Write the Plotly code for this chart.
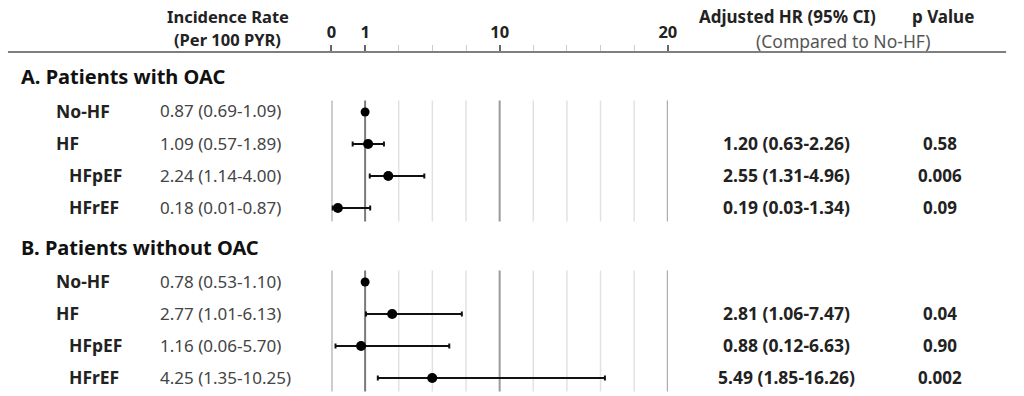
import plotly.graph_objects as go

# ---------------- data ----------------
sections = ["A. Patients with OAC", "B. Patients without OAC"]
groups = ["No-HF", "HF", "HFpEF", "HFrEF"]
indented = [False, False, True, True]

ir_a = ["0.87 (0.69-1.09)", "1.09 (0.57-1.89)", "2.24 (1.14-4.00)", "0.18 (0.01-0.87)"]
ir_b = ["0.78 (0.53-1.10)", "2.77 (1.01-6.13)", "1.16 (0.06-5.70)", "4.25 (1.35-10.25)"]

hr_a = [1.0, 1.20, 2.55, 0.19]
lo_a = [None, 0.63, 1.31, 0.03]
hi_a = [None, 2.26, 4.96, 1.34]
p_a = [None, "0.58", "0.006", "0.09"]

hr_b = [1.0, 2.81, 0.88, 5.49]
lo_b = [None, 1.06, 0.12, 1.85]
hi_b = [None, 7.47, 6.63, 16.26]
p_b = [None, "0.04", "0.90", "0.002"]

tick_values = [0, 1, 10, 20]
tick_labels = ["0", "1", "10", "20"]
minor_values = [3.25, 5.5, 7.75, 12, 14, 16, 18]

# ---------------- layout helpers ----------------
W, H = 1024, 396
FONT = "Noto Sans"
DARK = "#222222"
GRAY = "#444444"


def scale(v):
    """Piecewise axis scale used by the original figure (0-1, 1-10, 10-20)."""
    if v <= 1:
        return v
    if v <= 10:
        return 1 + (v - 1) / 2.25
    return 5 + (v - 10) / 2.0


def px(x):
    return x / W


def py(y):
    return 1 - y / H


AXIS_TOP = 52
fig = go.Figure()

annotations = []
shapes = []


def text(x, y, s, size=17, color=DARK, bold=False, anchor="left"):
    if anchor == "left":
        x -= 3
    annotations.append(dict(
        x=px(x), y=py(y), xref="paper", yref="paper",
        text=f"<b>{s}</b>" if bold else s,
        showarrow=False, xanchor=anchor, yanchor="middle",
        font=dict(family=FONT, size=size, color=color),
    ))


# headers
text(226, 16.5, "Incidence Rate", size=16.5, bold=True, anchor="center")
text(226, 39, "(Per 100 PYR)", size=16.5, bold=True, anchor="center")
text(793, 16, "Adjusted HR (95% CI)", bold=True, anchor="center")
text(951, 16, "p Value", bold=True, anchor="center")
text(850, 41, "(Compared to No-HF)", size=17.5, color="#555555", anchor="center")

shapes.append(dict(type="line", xref="paper", yref="paper",
                   x0=px(3), x1=px(1015), y0=py(AXIS_TOP), y1=py(AXIS_TOP),
                   line=dict(color="#555555", width=1.6)))

section_tops = [77, 247]
ROW0 = 35
STEP = 32

datasets = [
    (ir_a, hr_a, lo_a, hi_a, p_a),
    (ir_b, hr_b, lo_b, hi_b, p_b),
]

for si, (title, (ir, hr, lo, hi, pv)) in enumerate(zip(sections, datasets)):
    top = section_tops[si]
    rows_y = [top + ROW0 + i * STEP for i in range(len(groups))]
    text(17, top, title, size=20, color="#111111", bold=True)

    # gridlines
    g0, g1 = rows_y[0] - 11.5, rows_y[-1] + 13.5
    for v in minor_values:
        shapes.append(dict(type="line", xref="x", yref="paper", layer="below",
                           x0=scale(v), x1=scale(v), y0=py(g1), y1=py(g0),
                           line=dict(color="#e2e2e2", width=1.5)))
    for v in tick_values:
        col = "#7a7a7a" if v == 1 else "#9a9a9a"
        shapes.append(dict(type="line", xref="x", yref="paper", layer="below",
                           x0=scale(v), x1=scale(v), y0=py(g1), y1=py(g0),
                           line=dict(color=col, width=2)))

    for i, g in enumerate(groups):
        y = rows_y[i]
        text(66 if indented[i] else 53, y - 1, g, size=17.5, bold=True)
        text(158, y - 1, ir[i], color=GRAY)
        if lo[i] is not None:
            text(792, y - 1, f"{hr[i]:.2f} ({lo[i]:.2f}-{hi[i]:.2f})", size=17.5, bold=True, anchor="center")
            text(948, y - 1, pv[i], bold=True, anchor="center")

    ref_idx = [i for i in range(len(groups)) if lo[i] is None]
    cmp_idx = [i for i in range(len(groups)) if lo[i] is not None]

    fig.add_trace(go.Scatter(
        x=[scale(hr[i]) for i in ref_idx], y=[rows_y[i] for i in ref_idx],
        mode="markers", marker=dict(color="#000000", size=9),
        showlegend=False, hoverinfo="skip", cliponaxis=False,
    ))
    fig.add_trace(go.Scatter(
        x=[scale(hr[i]) for i in cmp_idx], y=[rows_y[i] for i in cmp_idx],
        mode="markers", marker=dict(color="#000000", size=10),
        error_x=dict(type="data", symmetric=False,
                     array=[scale(hi[i]) - scale(hr[i]) for i in cmp_idx],
                     arrayminus=[scale(hr[i]) - scale(lo[i]) for i in cmp_idx],
                     color="#111111", thickness=2, width=2.5),
        showlegend=False, hoverinfo="skip", cliponaxis=False,
    ))

fig.update_layout(
    width=W, height=H,
    margin=dict(l=0, r=0, t=0, b=0),
    paper_bgcolor="white", plot_bgcolor="white",
    annotations=annotations, shapes=shapes,
    xaxis=dict(
        domain=[px(331), px(672)], range=[0, scale(20)],
        side="top", anchor="y",
        showgrid=False, zeroline=False, showline=False,
        tickmode="array",
        tickvals=[scale(v) for v in tick_values], ticktext=tick_labels,
        ticks="outside", ticklen=6, tickwidth=1.5, tickcolor="#666666",
        tickfont=dict(family=FONT, size=16.5, color=DARK, weight="bold"),
        minor=dict(tickmode="array", tickvals=[scale(v) for v in minor_values],
                   ticks="outside", ticklen=6, tickwidth=1.2, tickcolor="#cccccc",
                   showgrid=False),
        fixedrange=True,
    ),
    yaxis=dict(
        domain=[0, py(AXIS_TOP)], range=[H, AXIS_TOP],
        visible=False, showgrid=False, zeroline=False, fixedrange=True,
    ),
)

fig.write_html("out.html")
